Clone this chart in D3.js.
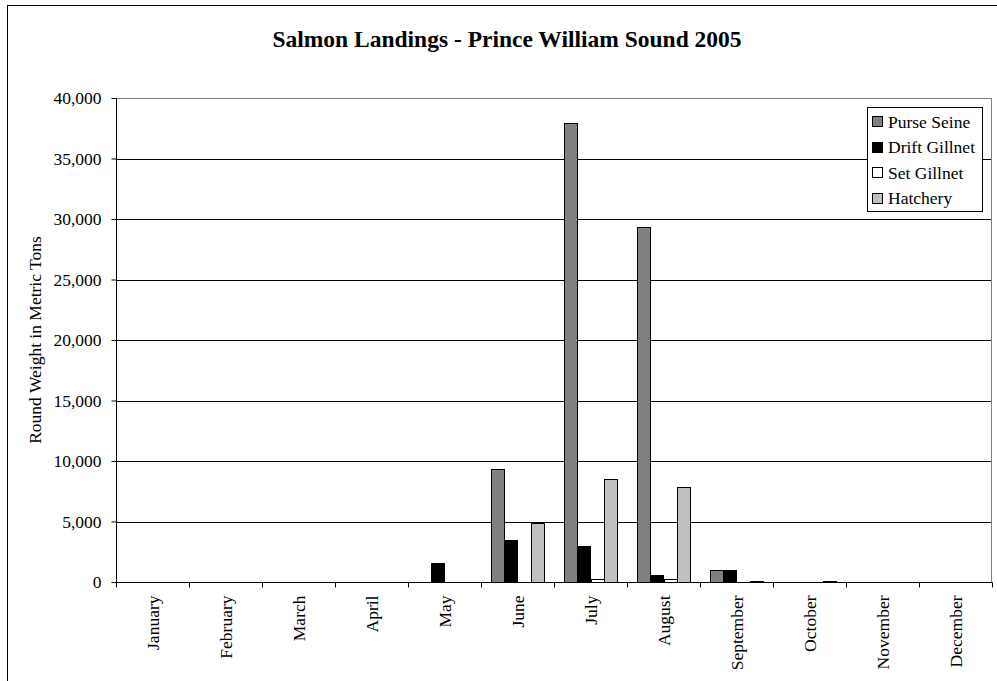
<!DOCTYPE html>
<html>
<head>
<meta charset="utf-8">
<script src="https://cdn.jsdelivr.net/npm/d3@7/dist/d3.min.js"></script>
<style>
html,body{margin:0;padding:0;background:#fff;}
svg{display:block;}
text{font-family:"Liberation Serif","Times New Roman",serif;fill:#000;}
</style>
</head>
<body>
<svg id="chart" width="997" height="681"></svg>
<script>
const months = ["January","February","March","April","May","June","July","August","September","October","November","December"];
const seriesNames = ["Purse Seine","Drift Gillnet","Set Gillnet","Hatchery"];
const purseSeine   = [0,0,0,0,0,9350,37950,29350,1000,0,0,0];
const driftGillnet = [0,0,0,0,1550,3450,3000,600,1000,0,0,0];
const setGillnet   = [0,0,0,0,0,0,280,220,0,0,0,0];
const hatchery     = [0,0,0,0,0,4900,8500,7850,110,60,0,0];
const yTicks = [0,5000,10000,15000,20000,25000,30000,35000,40000];
const colors = ["#808080","#000000","#ffffff","#c0c0c0"];

const values = [purseSeine, driftGillnet, setGillnet, hatchery];
const svg = d3.select("#chart");

const L = 116, R = 992, T = 98, B = 582;

// outer chart frame
svg.append("rect").attr("x",7.5).attr("y",5.5).attr("width",1010).attr("height",700)
  .attr("fill","none").attr("stroke","#000").attr("stroke-width",1);

const x = d3.scaleBand().domain(months).range([L,R]).paddingInner(0).paddingOuter(0);
const xs = d3.scaleBand().domain(seriesNames).range([0,x.bandwidth()]).paddingInner(0).paddingOuter(0.75);
const y = d3.scaleLinear().domain([0,40000]).range([B,T]);

// gridlines
svg.append("g").selectAll("line").data(yTicks.filter(d=>d>0 && d<40000)).join("line")
  .attr("x1",L).attr("x2",R).attr("y1",d=>Math.round(y(d))+0.5).attr("y2",d=>Math.round(y(d))+0.5)
  .attr("stroke","#000").attr("stroke-width",1);

// plot border (gray)
svg.append("rect").attr("x",L+0.5).attr("y",T+0.5).attr("width",R-L-1).attr("height",B-T)
  .attr("fill","none").attr("stroke","#808080").attr("stroke-width",1);

// bars
const flat = [];
values.forEach((arr,si)=>arr.forEach((v,mi)=>{ if(v>0) flat.push({s:seriesNames[si],si,m:months[mi],v}); }));
svg.append("g").selectAll("rect").data(flat).join("rect")
  .attr("x",d=>Math.round(x(d.m)+xs(d.s))+0.5)
  .attr("width",d=>Math.round(xs.bandwidth()))
  .attr("y",d=>Math.round(y(d.v))+0.5)
  .attr("height",d=>Math.max(1,Math.round(y(0))-Math.round(y(d.v))))
  .attr("fill",d=>colors[d.si]).attr("stroke","#000").attr("stroke-width",1);

// y axis
const yAxis = d3.axisLeft(y).tickValues(yTicks).tickFormat(d3.format(",")).tickSize(5).tickPadding(10);
const gy = svg.append("g").attr("transform",`translate(${L+0.5},0)`).call(yAxis);
gy.select(".domain").attr("stroke","#000").attr("d",`M0,${T}V${B+0.5}`);
gy.selectAll(".tick line").attr("stroke","#000");
gy.selectAll(".tick text").attr("font-family","Liberation Serif").attr("font-size","17.5px").attr("fill","#000");

// x axis
const gx = svg.append("g").attr("transform",`translate(0,${B+0.5})`);
gx.append("line").attr("x1",L).attr("x2",R+0.5).attr("y1",0).attr("y2",0).attr("stroke","#000");
const bounds = months.map(m=>x(m)).concat([R]);
gx.selectAll("line.tk").data(bounds).join("line").attr("class","tk")
  .attr("x1",d=>Math.round(d)+0.5).attr("x2",d=>Math.round(d)+0.5).attr("y1",0).attr("y2",5).attr("stroke","#000");
gx.selectAll("text").data(months).join("text")
  .attr("transform",d=>`translate(${x(d)+x.bandwidth()/2},${13}) rotate(-90)`)
  .attr("text-anchor","end").attr("dy","0.35em")
  .attr("font-size","17.5px").text(d=>d);

// y axis title
svg.append("text").attr("transform",`translate(35,${(T+B)/2}) rotate(-90)`)
  .attr("text-anchor","middle").attr("dy","0.35em").attr("font-size","17.5px")
  .text("Round Weight in Metric Tons");

// title
svg.append("text").attr("x",507).attr("y",47).attr("text-anchor","middle")
  .attr("font-size","23.5px").attr("font-weight","bold")
  .text("Salmon Landings - Prince William Sound 2005");

// legend
const lg = svg.append("g");
lg.append("rect").attr("x",867.5).attr("y",107.5).attr("width",115).attr("height",104)
  .attr("fill","#fff").attr("stroke","#000").attr("stroke-width",1);
seriesNames.forEach((n,i)=>{
  const cy = 121.7 + i*25.5;
  lg.append("rect").attr("x",872.5).attr("y",Math.round(cy-5.5)+0.5).attr("width",10).attr("height",10)
    .attr("fill",colors[i]).attr("stroke","#000").attr("stroke-width",1);
  lg.append("text").attr("x",888).attr("y",cy).attr("dy","0.35em").attr("font-size","17.5px").text(n);
});
</script>
</body>
</html>
